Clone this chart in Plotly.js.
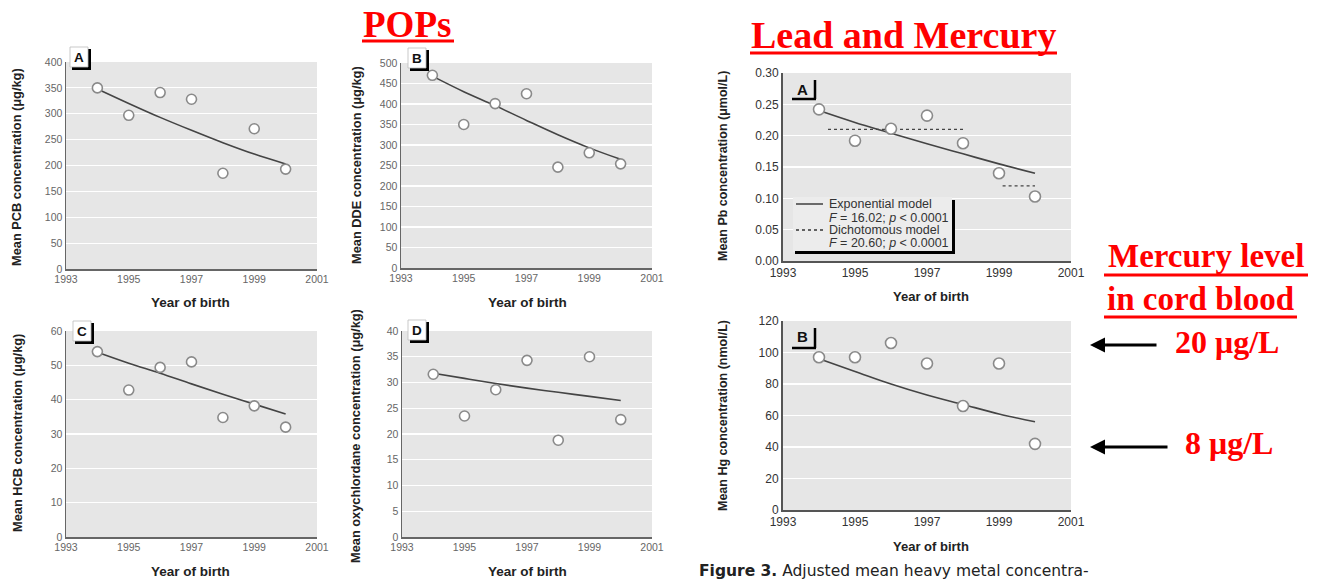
<!DOCTYPE html>
<html><head><meta charset="utf-8">
<script src="https://cdn.plot.ly/plotly-3.0.1.min.js"></script>
<style>html,body{margin:0;padding:0;background:#fff;}#chart{width:1320px;height:581px;}</style>
</head><body><div id="chart"></div>
<script>
// ---- data ----
const years = [1994, 1995, 1996, 1997, 1998, 1999, 2000];
const xTicks = [1993, 1995, 1997, 1999, 2001];
const pcb    = [350, 297, 341, 328, 185, 271, 193];
const pcbFit = [348, 320, 293, 268, 244, 222, 203];
const dde    = [470, 350, 401, 425, 246, 281, 254];
const ddeFit = [468, 430, 396, 360, 325, 293, 265];
const hcb    = [54, 42.8, 49.4, 51, 34.8, 38.2, 32];
const hcbFit = [53.8, 50.6, 47.7, 44.6, 41.6, 38.7, 35.8];
const oxy    = [31.6, 23.5, 28.6, 34.3, 18.8, 35, 22.8];
const oxyFit = [31.8, 30.8, 29.8, 28.9, 28.1, 27.3, 26.5];
const pb     = [0.242, 0.192, 0.211, 0.232, 0.188, 0.140, 0.103];
const pbFit  = [0.240, 0.221, 0.204, 0.187, 0.171, 0.155, 0.140];
const pbDichoX = [1994.25, 1998, null, 1999.1, 2000];
const pbDichoY = [0.21, 0.21, null, 0.12, 0.12];
const hg     = [97, 97, 106, 93, 66, 93, 42];
const hgFit  = [96, 88, 80, 73, 67, 61, 56];

const W = 1320, H = 581;
const fx = p => p / W, fy = p => 1 - p / H;
const SANS = '"Liberation Sans", Arial, sans-serif';
const NARROW = SANS;
const WIDE = '"DejaVu Sans", Verdana, sans-serif';
const SERIF = '"Liberation Serif", "Times New Roman", serif';

const panels = [
  {k:'', ys:pcb, fit:pcbFit, max:400, dt:50, x0:66, x1:317, y0:62, y1:269, narrow:true},
  {k:'2', ys:dde, fit:ddeFit, max:500, dt:50, x0:401, x1:652, y0:63, y1:268, narrow:true},
  {k:'3', ys:hcb, fit:hcbFit, max:60, dt:10, x0:66, x1:317, y0:331, y1:537, narrow:true},
  {k:'4', ys:oxy, fit:oxyFit, max:40, dt:5, x0:402, x1:652, y0:331, y1:537, narrow:true},
  {k:'5', ys:pb, fit:pbFit, max:0.30, dt:0.05, x0:783, x1:1071, y0:73, y1:261, narrow:false, fmt:'.2f'},
  {k:'6', ys:hg, fit:hgFit, max:120, dt:20, x0:783, x1:1071, y0:321, y1:510, narrow:false}
];

const traces = [];
const layout = {
  width: W, height: H, margin:{l:0,r:0,t:0,b:0},
  paper_bgcolor:'#ffffff', plot_bgcolor:'#e6e6e6',
  showlegend:false, annotations:[], shapes:[]
};

panels.forEach(p => {
  const xa = 'x' + p.k, ya = 'y' + p.k;
  traces.push({x: years, y: p.fit, xaxis: xa, yaxis: ya, mode:'lines', type:'scatter',
    line:{color:'#444', width:1.6, shape:'spline'}, hoverinfo:'skip'});
  if (p.k === '5') {
    traces.push({x: pbDichoX, y: pbDichoY, xaxis: xa, yaxis: ya, mode:'lines', type:'scatter',
      line:{color:'#444', width:1.3, dash:'dot'}, connectgaps:false, hoverinfo:'skip'});
  }
  traces.push({x: years, y: p.ys, xaxis: xa, yaxis: ya, mode:'markers', type:'scatter',
    marker:{size: p.narrow ? 10 : 11, color:'#ffffff', line:{color:'#8a8a8a', width:1.6}}});
  const tf = p.narrow ? {family:NARROW, size:10.5, color:'#666'} : {family:SANS, size:12, color:'#333'};
  layout['xaxis' + p.k] = {domain:[fx(p.x0), fx(p.x1)], anchor: ya, range:[1993, 2001],
    tickvals: xTicks, ticktext: xTicks.map(String), showgrid:false, zeroline:false,
    showline:true, linecolor: p.narrow ? '#666' : '#555', linewidth: p.narrow ? 1.5 : 2,
    ticks:'', tickfont: tf, fixedrange:true};
  layout['yaxis' + p.k] = {domain:[fy(p.y1), fy(p.y0)], anchor: xa, range:[0, p.max],
    dtick: p.dt, tick0:0, showgrid:true, gridcolor:'#ffffff', gridwidth:1.2, zeroline:false,
    showline:true, linecolor: p.narrow ? '#666' : '#555', linewidth: p.narrow ? 1.5 : 2,
    ticks:'', tickfont: tf, tickformat: p.fmt || '', fixedrange:true};
});

function ann(text, x, y, font, extra) {
  layout.annotations.push(Object.assign({text: text, xref:'paper', yref:'paper',
    x: fx(x), y: fy(y), showarrow:false, xanchor:'center', yanchor:'middle', font: font}, extra || {}));
}
function line(x0, y0, x1, y1, color, width, dash) {
  layout.shapes.push({type:'line', xref:'paper', yref:'paper', x0:fx(x0), y0:fy(y0), x1:fx(x1), y1:fy(y1),
    line:{color:color, width:width, dash: dash || 'solid'}});
}
function rect(x0, y0, x1, y1, fill, lc, lw) {
  layout.shapes.push({type:'rect', xref:'paper', yref:'paper', x0:fx(x0), y0:fy(y0), x1:fx(x1), y1:fy(y1),
    fillcolor:fill, line:{color: lc || fill, width: lw || 0}});
}

// y-axis titles
const ytf = {family:NARROW, size:12.8, color:'#222'};
ann('<b>Mean PCB concentration (μg/kg)</b>', 17, 167, ytf, {textangle:-90});
ann('<b>Mean DDE concentration (μg/kg)</b>', 356, 165, ytf, {textangle:-90});
ann('<b>Mean HCB concentration (μg/kg)</b>', 17, 433, ytf, {textangle:-90});
ann('<b>Mean oxychlordane concentration (μg/kg)</b>', 355, 436, ytf, {textangle:-90});
const ytf2 = {family:SANS, size:12.5, color:'#222'};
ann('<b>Mean Pb concentration (μmol/L)</b>', 723, 166, ytf2, {textangle:-90});
ann('<b>Mean Hg concentration (nmol/L)</b>', 723, 416, ytf2, {textangle:-90});

// x-axis titles
const xtf = {family:NARROW, size:13.5, color:'#222'};
ann('<b>Year of birth</b>', 190, 303, xtf);
ann('<b>Year of birth</b>', 527, 303, xtf);
ann('<b>Year of birth</b>', 190, 571, xtf);
ann('<b>Year of birth</b>', 527, 571, xtf);
const xtf2 = {family:SANS, size:13, color:'#222'};
ann('<b>Year of birth</b>', 931, 296, xtf2);
ann('<b>Year of birth</b>', 931, 546, xtf2);

// panel letter boxes (A-D)
[[70,47,'A'],[408,48,'B'],[73,321,'C'],[408,320,'D']].forEach(b => {
  rect(b[0]+2, b[1]+2, b[0]+21, b[1]+23, '#000');
  rect(b[0], b[1], b[0]+18, b[1]+20, '#ffffff', '#bbb', 0.8);
  ann('<b>' + b[2] + '</b>', b[0]+9, b[1]+10.5, {family:NARROW, size:13.5, color:'#111'});
});
// panel brackets for Pb / Hg
[[792,80,99,'A',90],[792,328,348,'B',336]].forEach(b => {
  line(815, b[1], 815, b[2], '#000', 2.5);
  line(b[0], b[2], 816, b[2], '#000', 2.5);
  ann('<b>' + b[3] + '</b>', 802, b[4], {family:SANS, size:15, color:'#111'});
});

// Pb legend box
rect(793, 197, 952, 252, '#ececec');
line(953.5, 200, 953.5, 254, '#000', 3);
line(795, 252.5, 955, 252.5, '#000', 3);
line(796, 204, 823, 204, '#333', 1.4);
line(796, 230, 823, 230, '#333', 1.4, 'dot');
const lf = {family:SANS, size:12.5, color:'#333'};
ann('Exponential model', 827, 204, lf, {xanchor:'left'});
ann('<i>F</i> = 16.02; <i>p</i> < 0.0001', 827, 218, lf, {xanchor:'left'});
ann('Dichotomous model', 827, 230, lf, {xanchor:'left'});
ann('<i>F</i> = 20.60; <i>p</i> < 0.0001', 827, 243, lf, {xanchor:'left'});

// red headings
const red = '#ff0000';
ann('<b>POPs</b>', 407, 24, {family:SERIF, size:37, color:red});
line(362, 41, 454, 41, red, 3);
ann('<b>Lead and Mercury</b>', 903, 35, {family:SERIF, size:38, color:red});
line(750, 53, 1057, 53, red, 3);
ann('<b>Mercury level</b>', 1206, 256, {family:SERIF, size:33, color:red});
line(1104, 275, 1308, 275, red, 3);
ann('<b>in cord blood</b>', 1200, 299, {family:SERIF, size:33, color:red});
line(1104, 317, 1297, 317, red, 3);
ann('<b>20 μg/L</b>', 1227, 342, {family:SERIF, size:32, color:red});
ann('<b>8 μg/L</b>', 1229, 443, {family:SERIF, size:32, color:red});

// arrows
[[1090, 345, 68],[1090, 447, 79]].forEach(a => {
  layout.annotations.push({text:'', xref:'paper', yref:'paper', x:fx(a[0]), y:fy(a[1]),
    showarrow:true, ax:a[2], ay:0, arrowhead:2, arrowsize:1, arrowwidth:3, arrowcolor:'#000'});
});

// caption
ann('<b>Figure 3.</b> Adjusted mean heavy metal concentra-', 697, 571,
  {family:WIDE, size:15.5, color:'#222'}, {xanchor:'left'});

Plotly.newPlot('chart', traces, layout, {staticPlot:true, displayModeBar:false});
</script></body></html>
